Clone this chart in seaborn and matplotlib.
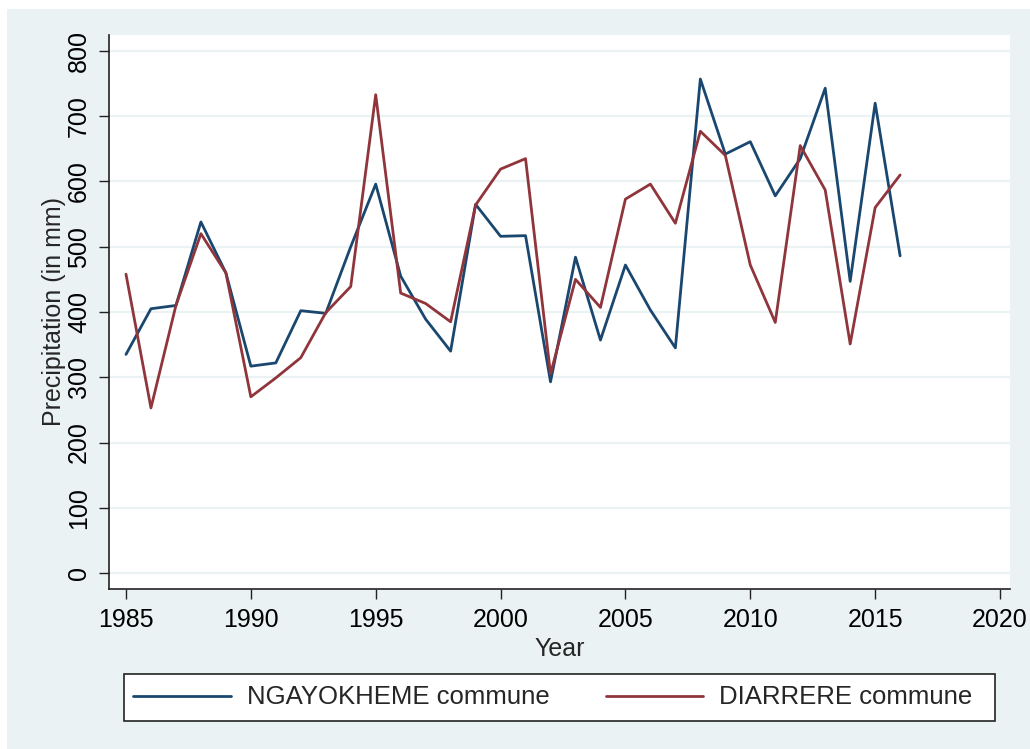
import seaborn as sns
import matplotlib.pyplot as plt
import matplotlib.patches as mpatches
import pandas as pd

years = list(range(1985, 2017))
ngayokheme = [335, 405, 410, 538, 460, 317, 322, 402, 398, 500, 596, 455,
              389, 340, 565, 516, 517, 293, 484, 357, 472, 403, 345, 757,
              642, 661, 578, 635, 743, 447, 720, 486]
diarrere = [458, 253, 410, 520, 460, 270, 299, 330, 399, 439, 733, 429,
            413, 385, 564, 619, 635, 305, 450, 407, 573, 596, 536, 677,
            640, 472, 384, 655, 587, 351, 560, 610]
series_names = ['NGAYOKHEME commune', 'DIARRERE commune']
colors = ['#1a476f', '#90353b']
bg = '#eaf2f3'

df = pd.DataFrame({
    'Year': years * 2,
    'Precipitation': ngayokheme + diarrere,
    'Series': [series_names[0]] * len(years) + [series_names[1]] * len(years),
})

sns.set_style('white')
plt.rcParams['font.family'] = ['Liberation Sans', 'DejaVu Sans']

W, H = 1030, 749
fig = plt.figure(figsize=(W / 100, H / 100), dpi=100, facecolor='white')
# outer graph region (Stata style), leaving a thin white margin top/left
fig.patches.append(mpatches.Rectangle((7 / W, 0), 1 - 7 / W, 1 - 9 / H,
                                      transform=fig.transFigure,
                                      facecolor=bg, edgecolor='none', zorder=-10))

ax = fig.add_axes([109 / W, 1 - 589 / H, 901 / W, 554 / H])
ax.set_facecolor('white')

sns.lineplot(data=df, x='Year', y='Precipitation', hue='Series',
             palette=colors, linewidth=2, ax=ax, legend=False)

ax.set_xlim(1984.32, 2020.4)
ax.set_ylim(-24.5, 824.5)
ax.set_xticks(range(1985, 2021, 5))
ax.set_yticks(range(0, 801, 100))
ax.yaxis.grid(True, color=bg, linewidth=1.6)
ax.set_axisbelow(True)
for s in ['top', 'right']:
    ax.spines[s].set_visible(False)
for s in ['left', 'bottom']:
    ax.spines[s].set_color('#222222')
    ax.spines[s].set_linewidth(1.2)
ax.tick_params(axis='both', direction='out', length=7, width=1, colors='#222222',
               labelcolor='black', labelsize=18, left=True, bottom=True, pad=6)
ax.tick_params(axis='x', pad=7)
for lab in ax.get_yticklabels():
    lab.set_rotation(90)
    lab.set_va('center')
ax.set_xlabel('Year', fontsize=18, labelpad=3)
ax.set_ylabel('Precipitation (in mm)', fontsize=18, labelpad=1)

# legend box
fig.patches.append(mpatches.Rectangle((124 / W, 1 - 721 / H), 871 / W, 47 / H,
                                      transform=fig.transFigure, facecolor='white',
                                      edgecolor='#222222', linewidth=1.2, zorder=5))
handles = [plt.Line2D([], [], color=c, linewidth=2) for c in colors]
leg = fig.legend(handles, series_names, loc='center left', ncol=2,
                 bbox_to_anchor=(133 / W, 1 - 697.5 / H), borderaxespad=0,
                 borderpad=0, fontsize=18.5, frameon=False,
                 handlelength=3.8, handletextpad=0.62, columnspacing=2.2)
leg.set_zorder(6)

fig.savefig('out.png', dpi=100, facecolor='white')
